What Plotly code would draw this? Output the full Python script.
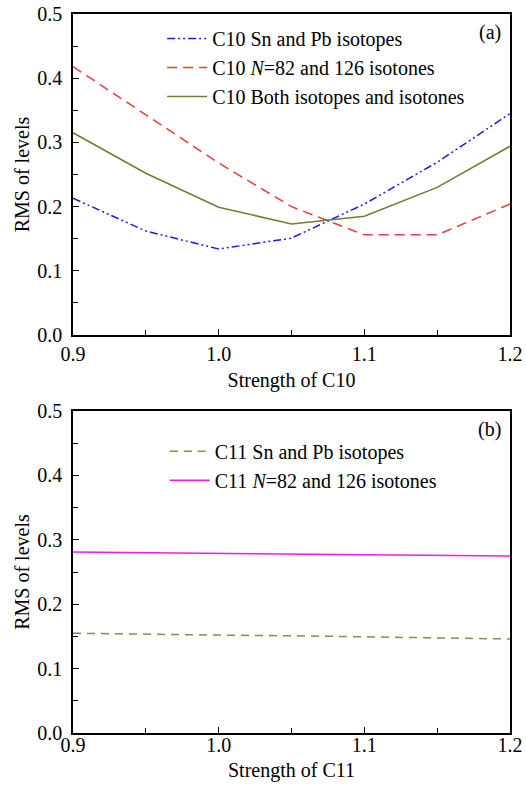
import plotly.graph_objects as go
from plotly.subplots import make_subplots

strength = [0.9, 0.95, 1.0, 1.05, 1.1, 1.15, 1.2]

c10_isotopes = [0.213, 0.162, 0.134, 0.151, 0.204, 0.269, 0.345]
c10_isotones = [0.418, 0.343, 0.268, 0.200, 0.156, 0.156, 0.204]
c10_both = [0.315, 0.252, 0.199, 0.173, 0.185, 0.230, 0.294]

c11_isotopes = [0.155, 0.153, 0.152, 0.151, 0.149, 0.148, 0.146]
c11_isotones = [0.281, 0.280, 0.279, 0.278, 0.277, 0.276, 0.275]

x_ticks = [0.9, 1.0, 1.1, 1.2]
x_ticklabels = ["0.9", "1.0", "1.1", "1.2"]
y_ticks = [0.0, 0.1, 0.2, 0.3, 0.4, 0.5]
y_ticklabels = ["0.0", "0.1", "0.2", "0.3", "0.4", "0.5"]

FONT = "Liberation Serif"
FS = 20

fig = make_subplots(rows=2, cols=1, vertical_spacing=0.1)

fig.add_trace(go.Scatter(x=strength, y=c10_isotopes, mode="lines",
                         name="C10 Sn and Pb isotopes",
                         line=dict(color="#1a1aff", width=1.5, dash="8px,3px,2px,3px,2px,3px"),
                         legend="legend"), row=1, col=1)
fig.add_trace(go.Scatter(x=strength, y=c10_isotones, mode="lines",
                         name="C10 <i>N</i>=82 and 126 isotones",
                         line=dict(color="#f03c3c", width=1.5, dash="10px,6px"),
                         legend="legend"), row=1, col=1)
fig.add_trace(go.Scatter(x=strength, y=c10_both, mode="lines",
                         name="C10 Both isotopes and isotones",
                         line=dict(color="#6f7d35", width=1.5),
                         legend="legend"), row=1, col=1)

fig.add_trace(go.Scatter(x=strength, y=c11_isotopes, mode="lines",
                         name="C11 Sn and Pb isotopes",
                         line=dict(color="#8a8c4e", width=1.5, dash="8px,6px"),
                         legend="legend2"), row=2, col=1)
fig.add_trace(go.Scatter(x=strength, y=c11_isotones, mode="lines",
                         name="C11 <i>N</i>=82 and 126 isotones",
                         line=dict(color="#f01af0", width=1.5),
                         legend="legend2"), row=2, col=1)

axis_common = dict(showline=True, linecolor="black", linewidth=1.5, mirror=True,
                   ticks="inside", ticklen=6, tickwidth=1.2, tickcolor="black",
                   showgrid=False, zeroline=False, ticklabeloverflow="allow",
                   tickfont=dict(family=FONT, size=FS, color="black"),
                   minor=dict(ticks="inside", ticklen=5, tickwidth=1.2, tickcolor="black"))

x_standoffs = {1: (0, 9), 2: (-7, 8)}
for r, xt in [(1, "Strength of C10"), (2, "Strength of C11")]:
    lab_so, tit_so = x_standoffs[r]
    fig.update_xaxes(range=[0.9, 1.2], tickvals=x_ticks, ticktext=x_ticklabels,
                     minor_dtick=0.05, minor_tick0=0.9, ticklabelstandoff=lab_so,
                     title=dict(text=xt, font=dict(family=FONT, size=FS, color="black"), standoff=tit_so),
                     row=r, col=1, **axis_common)
    fig.update_yaxes(range=[0, 0.5], tickvals=y_ticks, ticktext=y_ticklabels,
                     minor_dtick=0.05, minor_tick0=0, ticklabelstandoff=5,
                     title=dict(text="RMS of levels", font=dict(family=FONT, size=FS, color="black"), standoff=2),
                     row=r, col=1, **axis_common)

fig.update_layout(
    width=526, height=796,
    margin=dict(l=73, r=16, t=14, b=63, autoexpand=False),
    plot_bgcolor="white", paper_bgcolor="white",
    font=dict(family=FONT, color="black"),
    xaxis=dict(domain=[0, 1]), yaxis=dict(domain=[0.5535, 1.0]),
    xaxis2=dict(domain=[0, 1]), yaxis2=dict(domain=[0.0, 0.4478]),
    legend=dict(x=0.204, y=0.993, xanchor="left", yanchor="top",
                xref="paper", yref="paper",
                bgcolor="rgba(0,0,0,0)", font=dict(family=FONT, size=FS, color="black"),
                tracegroupgap=0, itemwidth=40),
    legend2=dict(x=0.21, y=0.419, xanchor="left", yanchor="top",
                 xref="paper", yref="paper",
                 bgcolor="rgba(0,0,0,0)", font=dict(family=FONT, size=FS, color="black"),
                 tracegroupgap=0, itemwidth=40),
    showlegend=True,
)

fig.add_annotation(text="(a)", x=0.985, y=0.985, xref="x domain", yref="y domain",
                   xanchor="right", yanchor="top", showarrow=False,
                   font=dict(family=FONT, size=FS, color="black"))
fig.add_annotation(text="(b)", x=0.985, y=0.985, xref="x2 domain", yref="y2 domain",
                   xanchor="right", yanchor="top", showarrow=False,
                   font=dict(family=FONT, size=FS, color="black"))

fig.write_html("out.html",
               config={"displayModeBar": False},
               post_script="document.body.style.margin='0';document.body.style.overflow='hidden';")
